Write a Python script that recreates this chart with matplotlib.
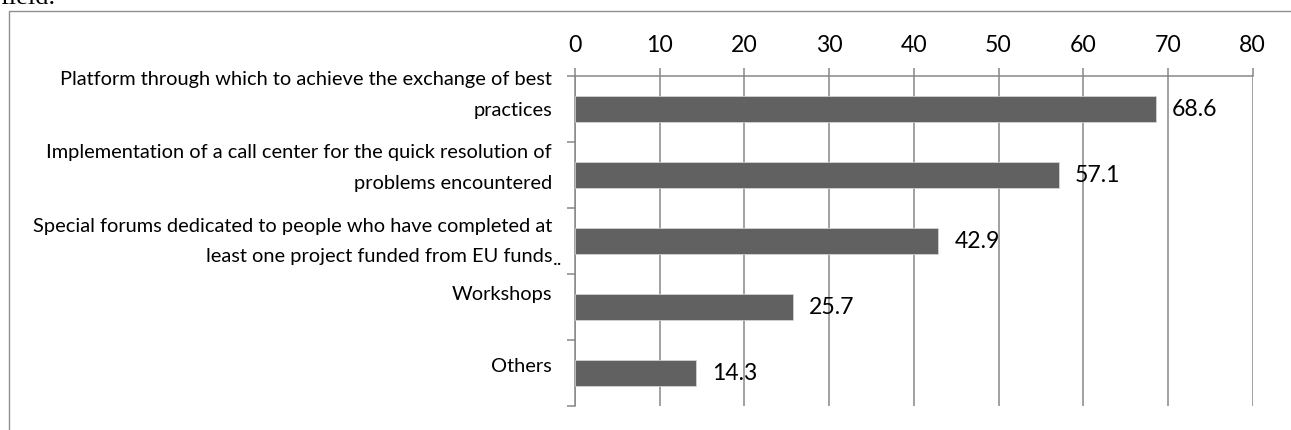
import matplotlib
matplotlib.use("Agg")
import matplotlib.pyplot as plt
import matplotlib.transforms as mtransforms
from matplotlib.patches import Rectangle

categories = [
    "Platform through which to achieve the exchange of best\npractices",
    "Implementation of a call center for the quick resolution of\nproblems encountered",
    "Special forums dedicated to people who have completed at\nleast one project funded from EU funds",
    "Workshops",
    "Others",
]
values = [68.6, 57.1, 42.9, 25.7, 14.3]
xticks = [0, 10, 20, 30, 40, 50, 60, 70, 80]

# layout / style (pixel offsets of category labels, relative to band centres)
label_dy = [-15, -8, 0, -13, -7]
W, H, DPI = 1291, 431, 100
BAR_COLOR = "#616161"
GRID_COLOR = "#878787"
LABEL_FONT = ["Lato", "DejaVu Sans"]
CAT_SIZE = 14.4
NUM_SIZE = 16.6

fig = plt.figure(figsize=(W / DPI, H / DPI), dpi=DPI)
fig.patch.set_facecolor("white")

# outer frame (partially cut by the figure edge)
fig.patches.append(Rectangle((8.5 / W, -0.05), 1.2, 1 - 11.5 / H + 0.05,
                             transform=fig.transFigure, fill=False,
                             edgecolor="#8f8f8f", linewidth=1.0))
# cut-off text from the page above
fig.text(0.0, 1 - 4 / H, "field.", family="Liberation Serif", fontsize=19,
         va="baseline", ha="left", color="black")

left, right, top, bottom = 575, 1252.7, 77, 406.7
ax = fig.add_axes([left / W, 1 - bottom / H, (right - left) / W, (bottom - top) / H])

ypos = list(range(len(categories)))
ax.barh(ypos, values, height=0.395, color=BAR_COLOR, edgecolor="#d9d9d9",
        linewidth=0.5, zorder=3)
ax.set_xlim(xticks[0], xticks[-1])
ax.set_ylim(len(categories) - 0.5, -0.5)

ax.xaxis.tick_top()
ax.set_xticks(xticks)
ax.set_xticklabels([str(t) for t in xticks], family=LABEL_FONT, fontsize=NUM_SIZE)
ax.tick_params(axis="x", which="major", length=6, width=1.1, color=GRID_COLOR,
               pad=9, direction="out")
ax.set_yticks([i - 0.5 for i in range(len(categories) + 1)])
ax.set_yticklabels([])
ax.tick_params(axis="y", length=6, width=1.1, color=GRID_COLOR, direction="out")

ax.grid(axis="x", color=GRID_COLOR, linewidth=1.1, zorder=0)
ax.set_axisbelow(True)
for side in ["right", "bottom"]:
    ax.spines[side].set_visible(False)
for side in ["top", "left"]:
    ax.spines[side].set_color(GRID_COLOR)
    ax.spines[side].set_linewidth(1.1)

# category labels
for i, (lab, dy) in enumerate(zip(categories, label_dy)):
    trans = mtransforms.offset_copy(ax.get_yaxis_transform(), fig=fig,
                                    x=-23, y=-dy, units="dots")
    ax.text(0, i, lab, transform=trans, ha="right", va="center",
            multialignment="right", family=LABEL_FONT, fontsize=CAT_SIZE,
            linespacing=1.95, color="black")
# trailing ".." after the truncated label
trans = mtransforms.offset_copy(ax.get_yaxis_transform(), fig=fig,
                                x=-22, y=-18, units="dots")
ax.text(0, 2, "..", transform=trans, ha="left", va="center",
        family=LABEL_FONT, fontsize=CAT_SIZE, color="black")

# data labels
for i, v in enumerate(values):
    ax.annotate(f"{v:.1f}", xy=(v, i), xytext=(16, 0), textcoords="offset pixels",
                ha="left", va="center", family=LABEL_FONT, fontsize=NUM_SIZE,
                color="black")

fig.savefig("out.png", dpi=DPI)
